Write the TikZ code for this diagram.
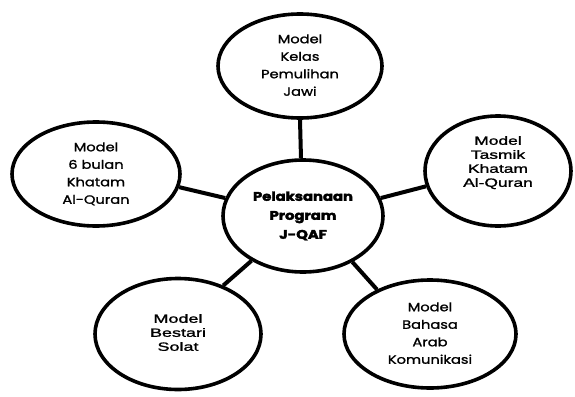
\documentclass[tikz,border=0pt]{standalone}
\usepackage{fontspec}
\usepackage{graphicx}
\usetikzlibrary{shapes.geometric}
\setmainfont{Poppins}[FakeBold=1.2]
\newfontfamily\arialf{Liberation Sans}[FakeBold=1.2]
\newfontfamily\heavyf{Poppins}[FakeBold=2.5]
\newcommand{\ctxt}[2][1.22]{\scalebox{#1}[1]{\fontsize{12}{17.5}\selectfont\begin{tabular}{@{}c@{}}#2\end{tabular}}}
\newcommand{\atxt}[2][1.45]{\scalebox{#1}[1]{\arialf\fontsize{12}{14}\selectfont\begin{tabular}{@{}c@{}}#2\end{tabular}}}
\newcommand{\btxt}[1]{\scalebox{1.18}[1]{\heavyf\bfseries\fontsize{12.5}{19}\selectfont\begin{tabular}{@{}c@{}}#1\end{tabular}}}
\newcommand{\liftup}[2]{\raisebox{0pt}[\height][\dimexpr\depth+#1\relax]{#2}}
\tikzset{
  bubble/.style={ellipse, draw=black, line width=3.6pt, fill=white, inner sep=0pt, text=black},
  link/.style={line width=4pt, black}
}
\begin{document}
\begin{tikzpicture}[x=1pt,y=-1pt]
\useasboundingbox (0,0) rectangle (575,396);
\node[bubble, minimum width=164pt, minimum height=104pt] (top) at (300,66) {\ctxt{Model\\Kelas\\Pemulihan\\Jawi}};
\node[bubble, minimum width=168pt, minimum height=104pt] (left) at (96,174) {\ctxt{Model\\6 bulan\\Khatam\\Al-Quran}};
\node[bubble, minimum width=146pt, minimum height=110pt] (right) at (498,171) {\liftup{16pt}{\atxt{Model\\Tasmik\\Khatam\\Al-Quran}}};
\node[bubble, minimum width=160pt, minimum height=112pt] (c) at (303,216) {\btxt{Pelaksanaan\\Program\\J-QAF}};
\node[bubble, minimum width=166pt, minimum height=111pt] (bl) at (178,334) {\atxt[1.5]{Model\\Bestari\\Solat}};
\node[bubble, minimum width=172pt, minimum height=108pt] (br) at (430,334) {\ctxt{Model\\Bahasa\\Arab\\Komunikasi}};
\draw[link] (top.-90) -- (c.92);
\draw[link] (left.-9) -- (c.167);
\draw[link] (right.-168) -- (c.13);
\draw[link] (c.-139) -- (bl.47);
\draw[link] (c.-43) -- (br.140);
\end{tikzpicture}
\end{document}
